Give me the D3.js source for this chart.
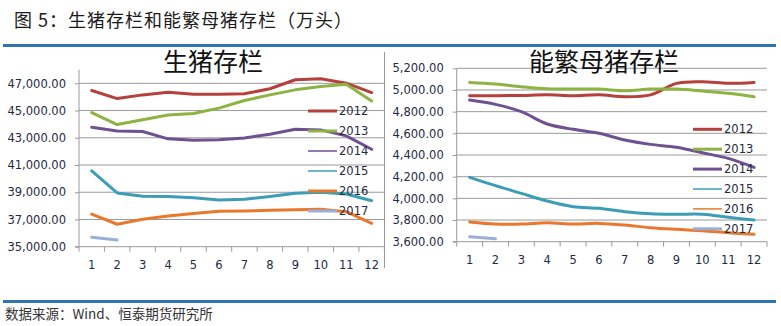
<!DOCTYPE html>
<html><head><meta charset="utf-8">
<script src="https://cdn.jsdelivr.net/npm/d3@7"></script>
<style>body{margin:0;background:#fff}svg{display:block}</style>
</head><body>
<script>
const months = ["1","2","3","4","5","6","7","8","9","10","11","12"];
const years = ["2012","2013","2014","2015","2016","2017"];
// 生猪存栏 (万头)
const hog2012 = [46470,45880,46150,46350,46200,46200,46230,46600,47260,47330,47010,46320];
const hog2013 = [44850,43970,44320,44680,44780,45180,45740,46150,46520,46760,46940,45710];
const hog2014 = [43780,43490,43460,42920,42820,42850,42990,43260,43630,43580,43140,42160];
const hog2015 = [40570,38950,38700,38680,38600,38430,38480,38680,38930,39000,38870,38380];
const hog2016 = [37400,36650,37010,37260,37430,37600,37620,37680,37720,37750,37570,36720];
const hog2017 = [35690,35490];
// 能繁母猪存栏 (万头)
const sow2012 = [4947,4947,4950,4955,4947,4955,4938,4955,5061,5076,5061,5070];
const sow2013 = [5070,5055,5030,5011,5008,5008,4993,5008,5008,4990,4969,4938];
const sow2014 = [4907,4867,4800,4686,4637,4600,4538,4498,4471,4421,4369,4286];
const sow2015 = [4194,4117,4046,3975,3923,3908,3877,3858,3853,3853,3825,3800];
const sow2016 = [3782,3763,3763,3775,3763,3769,3754,3729,3714,3702,3683,3668];
const sow2017 = [3646,3628];
const hogTicks = [35000,37000,39000,41000,43000,45000,47000];
const sowTicks = [3600,3800,4000,4200,4400,4600,4800,5000,5200];
const titleText = "图 5：生猪存栏和能繁母猪存栏（万头）";
const sourceText = "数据来源：Wind、恒泰期货研究所";
const hogTitle = "生猪存栏";
const sowTitle = "能繁母猪存栏";

const colors = ["#B5403C","#8DB442","#6F5192","#3C9DB6","#E8782E","#9AAFD8"];
const W = 781, H = 326;
const svg = d3.select("body").append("svg").attr("width", W).attr("height", H);
const labelFont = "DejaVu Sans, Verdana, sans-serif";
const labelColor = "#1F2A44";
const fmt = d3.format(",.2f");

svg.append("text").attr("x", 14).attr("y", 27)
  .attr("font-family", "Noto Sans CJK SC").attr("font-size", 18).attr("fill", "#1a1a1a")
  .attr("letter-spacing", 1)
  .text(titleText);
svg.append("rect").attr("x", 3).attr("y", 44).attr("width", 773).attr("height", 3).attr("fill", "#2E75B6");
svg.append("rect").attr("x", 3).attr("y", 300).attr("width", 773).attr("height", 3).attr("fill", "#2E75B6");
svg.append("text").attr("x", 5).attr("y", 319)
  .attr("font-family", "Noto Sans CJK SC").attr("font-size", 13.5).attr("fill", "#333")
  .text(sourceText);

function drawChart(cfg) {
  const g = svg.append("g");
  const x = d3.scaleBand().domain(months).range([cfg.x0, cfg.x1]);
  const y = d3.scaleLinear().domain(cfg.domain).range([cfg.yBottom, cfg.yTop]);
  g.selectAll(".grid").data(cfg.ticks.filter(t => t !== cfg.domain[0])).join("line")
    .attr("x1", cfg.x0).attr("x2", cfg.x1)
    .attr("y1", d => y(d)).attr("y2", d => y(d))
    .attr("stroke", "#9a9a9a").attr("stroke-width", 1);
  const yAxis = d3.axisLeft(y).tickValues(cfg.ticks).tickFormat(fmt).tickSize(4).tickPadding(9);
  const ya = g.append("g").attr("transform", `translate(${cfg.x0},0)`).call(yAxis);
  ya.select(".domain").attr("stroke", "#9a9a9a").attr("d", `M-4,${cfg.yBottom}H0V${cfg.yTop}`);
  ya.selectAll(".tick line").attr("stroke", "#9a9a9a");
  ya.selectAll(".tick text").attr("font-family", labelFont).attr("font-size", 11.5).attr("fill", labelColor);
  const xa = g.append("g").attr("transform", `translate(0,${cfg.yBottom})`)
    .call(d3.axisBottom(x).tickSize(0).tickPadding(cfg.xPad));
  xa.select(".domain").attr("stroke", "#9a9a9a").attr("d", `M${cfg.x0},0H${cfg.x1}`);
  xa.selectAll(".tick text").attr("font-family", labelFont).attr("font-size", 11.5).attr("fill", labelColor);
  const bounds = d3.range(months.length + 1).map(i => cfg.x0 + i * x.step());
  g.selectAll(".xt").data(bounds).join("line")
    .attr("x1", d => d).attr("x2", d => d)
    .attr("y1", cfg.yBottom).attr("y2", cfg.yBottom + 5)
    .attr("stroke", "#9a9a9a");
  const line = d3.line()
    .x((d, i) => x(months[i]) + x.bandwidth() / 2)
    .y(d => y(d))
    .curve(cfg.curve);
  cfg.series.forEach((s, k) => {
    g.append("path").datum(s).attr("d", line)
      .attr("fill", "none").attr("stroke", colors[k]).attr("stroke-width", 3)
      .attr("stroke-linejoin", "round").attr("stroke-linecap", "round");
  });
  years.forEach((yr, k) => {
    const ly = cfg.legY + k * cfg.legStep;
    g.append("line").attr("x1", cfg.legX).attr("x2", cfg.legX + 29)
      .attr("y1", ly).attr("y2", ly).attr("stroke", colors[k]).attr("stroke-width", cfg.legW[k]);
    g.append("text").attr("x", cfg.legX + 31).attr("y", ly).attr("dy", "0.36em")
      .attr("font-family", labelFont).attr("font-size", 11.5).attr("fill", labelColor).text(yr);
  });
  g.append("text").attr("x", cfg.titleX).attr("y", 71).attr("text-anchor", "middle")
    .attr("font-family", "Noto Sans CJK SC").attr("font-size", 25).attr("fill", "#111")
    .attr("font-weight", 400).text(cfg.title);
}

drawChart({
  x0: 79, x1: 384.4, yTop: 69.7, yBottom: 246.7, domain: [35000, 48000], ticks: hogTicks,
  series: [hog2012, hog2013, hog2014, hog2015, hog2016, hog2017], curve: d3.curveLinear,
  legX: 308, legY: 111, legStep: 20, legW: [3, 3, 1.5, 1.5, 3, 3],
  title: hogTitle, titleX: 213, xPad: 14
});
drawChart({
  x0: 456.7, x1: 767, yTop: 68.3, yBottom: 241.7, domain: [3600, 5200], ticks: sowTicks,
  series: [sow2012, sow2013, sow2014, sow2015, sow2016, sow2017], curve: d3.curveCatmullRom.alpha(0.5),
  legX: 693, legY: 129.3, legStep: 19.9, legW: [3, 3, 3, 1.5, 1.5, 3],
  title: sowTitle, titleX: 604, xPad: 14
});
svg.append("line").attr("x1", 384.5).attr("x2", 384.5).attr("y1", 52).attr("y2", 268)
  .attr("stroke", "#9a9a9a");
</script>
</body></html>
